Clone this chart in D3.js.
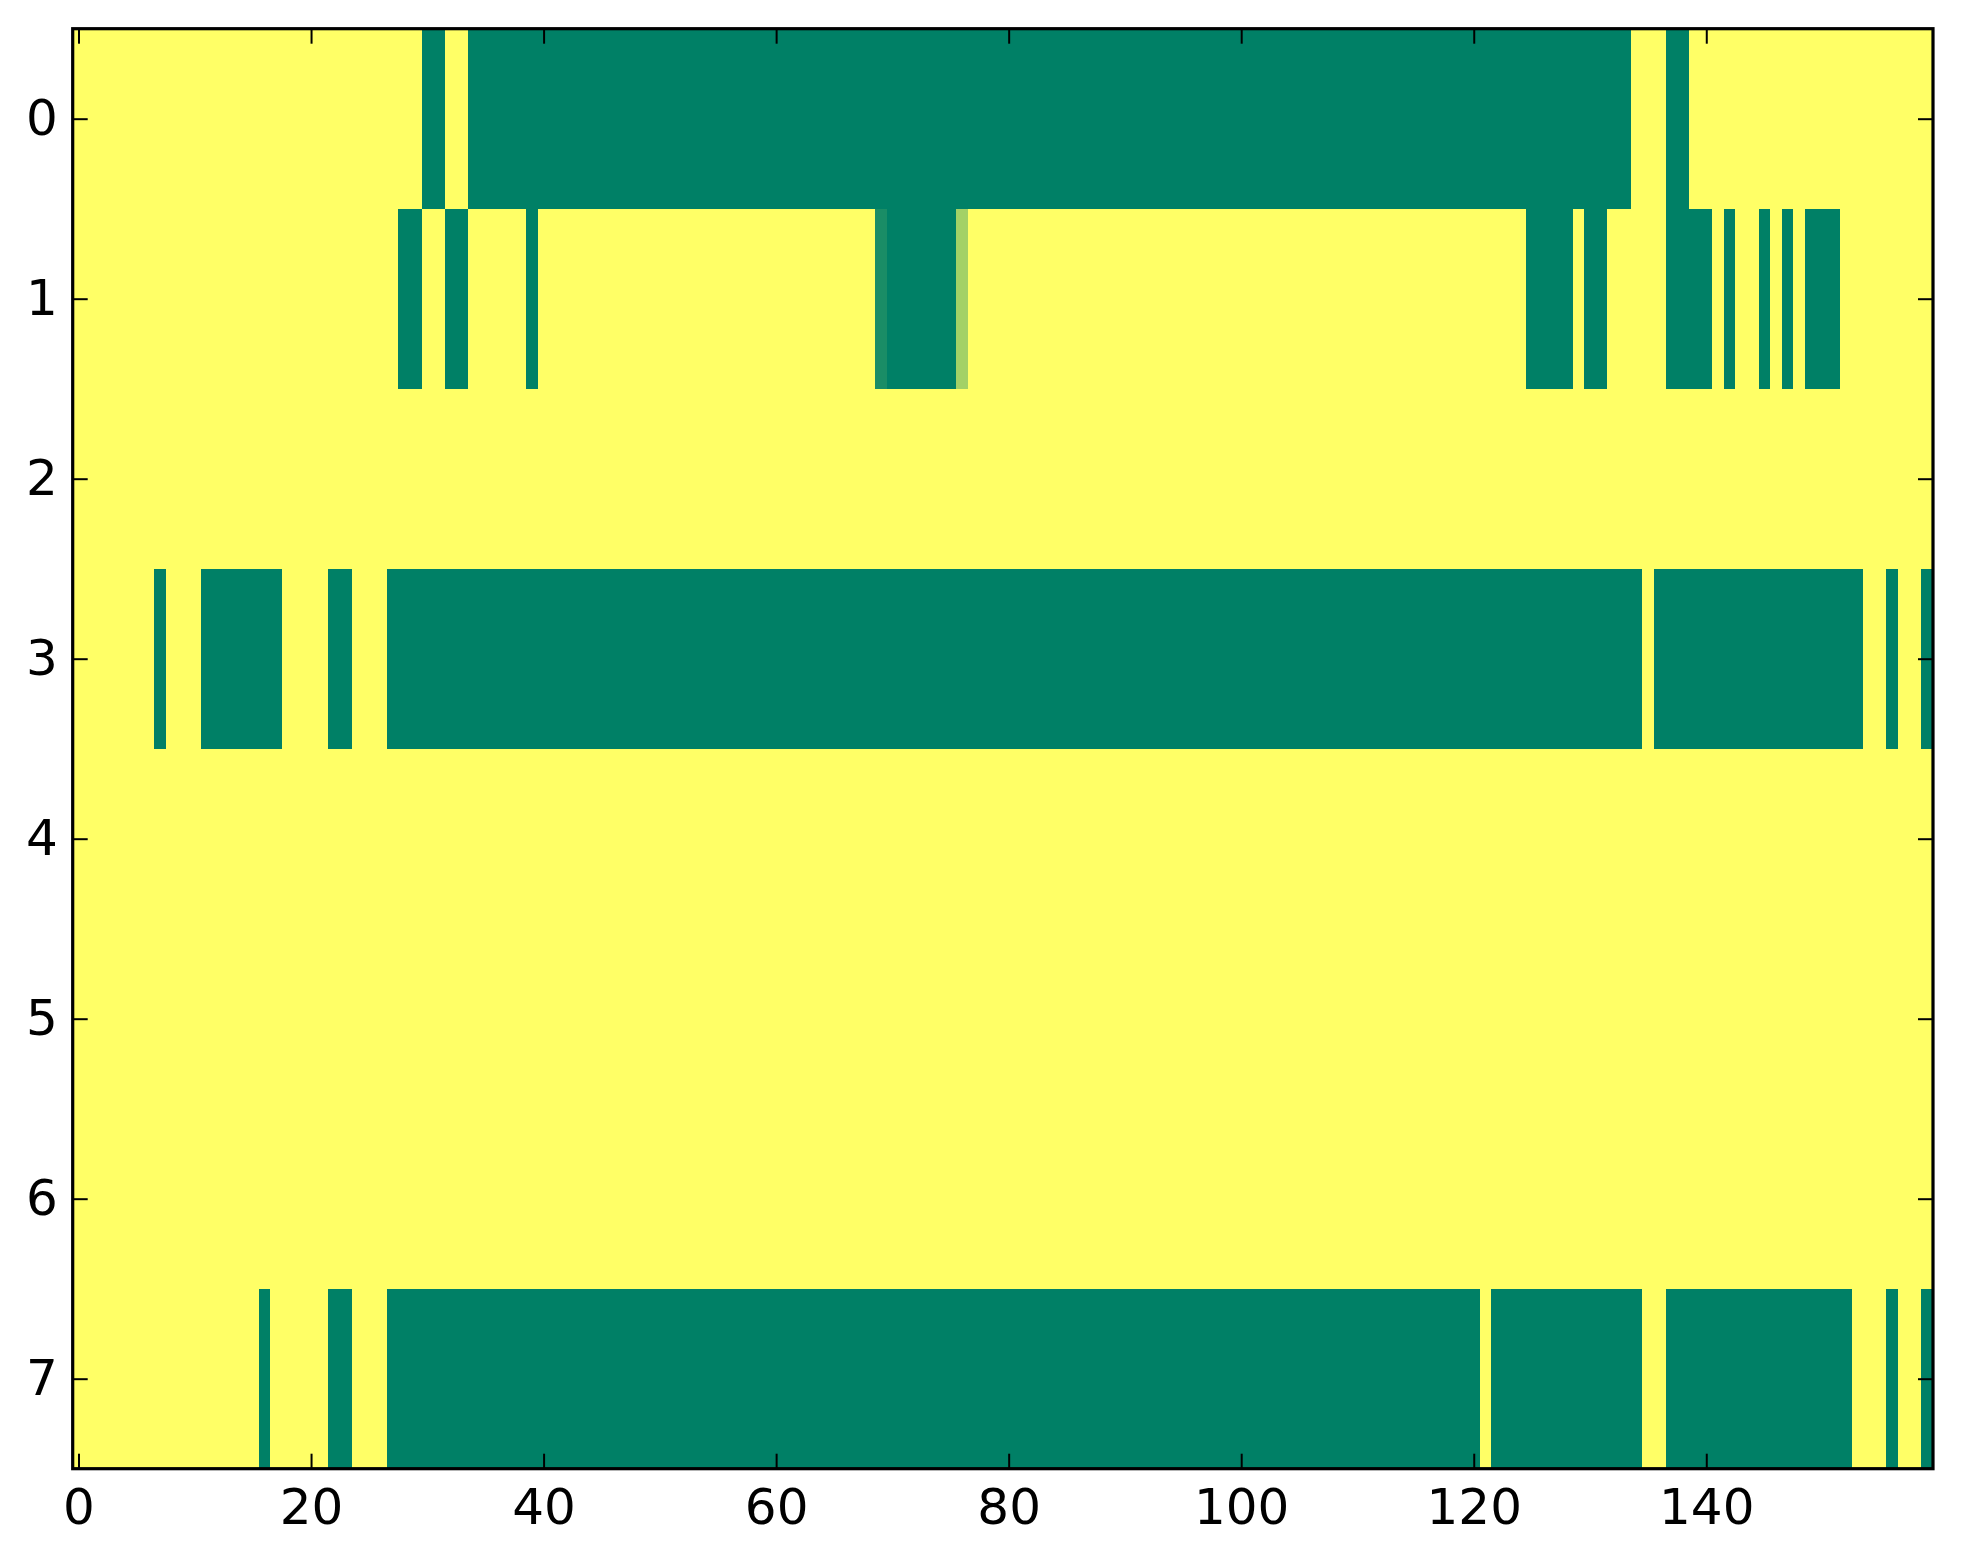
<!DOCTYPE html>
<html>
<head>
<meta charset="utf-8">
<script src="https://cdn.jsdelivr.net/npm/d3@7"></script>
<style>
  body { margin: 0; background: #ffffff; }
  .tick text { font-family: "DejaVu Sans", sans-serif; font-size: 50px; fill: #000; }
</style>
</head>
<body>
<div id="chart"></div>
<script>
// row labels (top to bottom) and x tick labels
var rowLabels = [0, 1, 2, 3, 4, 5, 6, 7];
var xTicks = [0, 20, 40, 60, 80, 100, 120, 140];

// cell values per row, 160 columns each (0 = green, 1 = yellow)
var row0 = [
  1,1,1,1,1,1,1,1,1,1,1,1,1,1,1,1,1,1,1,1,
  1,1,1,1,1,1,1,1,1,1,0,0,1,1,0,0,0,0,0,0,
  0,0,0,0,0,0,0,0,0,0,0,0,0,0,0,0,0,0,0,0,
  0,0,0,0,0,0,0,0,0,0,0,0,0,0,0,0,0,0,0,0,
  0,0,0,0,0,0,0,0,0,0,0,0,0,0,0,0,0,0,0,0,
  0,0,0,0,0,0,0,0,0,0,0,0,0,0,0,0,0,0,0,0,
  0,0,0,0,0,0,0,0,0,0,0,0,0,0,1,1,1,0,0,1,
  1,1,1,1,1,1,1,1,1,1,1,1,1,1,1,1,1,1,1,1
];
var row1 = [
  1,1,1,1,1,1,1,1,1,1,1,1,1,1,1,1,1,1,1,1,
  1,1,1,1,1,1,1,1,0,0,1,1,0,0,1,1,1,1,1,0,
  1,1,1,1,1,1,1,1,1,1,1,1,1,1,1,1,1,1,1,1,
  1,1,1,1,1,1,1,1,1,0.1,0,0,0,0,0,0,0.64,1,1,1,
  1,1,1,1,1,1,1,1,1,1,1,1,1,1,1,1,1,1,1,1,
  1,1,1,1,1,1,1,1,1,1,1,1,1,1,1,1,1,1,1,1,
  1,1,1,1,1,0,0,0,0,1,0,0,1,1,1,1,1,0,0,0,
  0,1,0,1,1,0,1,0,1,0,0,0,1,1,1,1,1,1,1,1
];
var row2 = [
  1,1,1,1,1,1,1,1,1,1,1,1,1,1,1,1,1,1,1,1,
  1,1,1,1,1,1,1,1,1,1,1,1,1,1,1,1,1,1,1,1,
  1,1,1,1,1,1,1,1,1,1,1,1,1,1,1,1,1,1,1,1,
  1,1,1,1,1,1,1,1,1,1,1,1,1,1,1,1,1,1,1,1,
  1,1,1,1,1,1,1,1,1,1,1,1,1,1,1,1,1,1,1,1,
  1,1,1,1,1,1,1,1,1,1,1,1,1,1,1,1,1,1,1,1,
  1,1,1,1,1,1,1,1,1,1,1,1,1,1,1,1,1,1,1,1,
  1,1,1,1,1,1,1,1,1,1,1,1,1,1,1,1,1,1,1,1
];
var row3 = [
  1,1,1,1,1,1,1,0,1,1,1,0,0,0,0,0,0,0,1,1,
  1,1,0,0,1,1,1,0,0,0,0,0,0,0,0,0,0,0,0,0,
  0,0,0,0,0,0,0,0,0,0,0,0,0,0,0,0,0,0,0,0,
  0,0,0,0,0,0,0,0,0,0,0,0,0,0,0,0,0,0,0,0,
  0,0,0,0,0,0,0,0,0,0,0,0,0,0,0,0,0,0,0,0,
  0,0,0,0,0,0,0,0,0,0,0,0,0,0,0,0,0,0,0,0,
  0,0,0,0,0,0,0,0,0,0,0,0,0,0,0,1,0,0,0,0,
  0,0,0,0,0,0,0,0,0,0,0,0,0,0,1,1,0,1,1,0
];
var row4 = [
  1,1,1,1,1,1,1,1,1,1,1,1,1,1,1,1,1,1,1,1,
  1,1,1,1,1,1,1,1,1,1,1,1,1,1,1,1,1,1,1,1,
  1,1,1,1,1,1,1,1,1,1,1,1,1,1,1,1,1,1,1,1,
  1,1,1,1,1,1,1,1,1,1,1,1,1,1,1,1,1,1,1,1,
  1,1,1,1,1,1,1,1,1,1,1,1,1,1,1,1,1,1,1,1,
  1,1,1,1,1,1,1,1,1,1,1,1,1,1,1,1,1,1,1,1,
  1,1,1,1,1,1,1,1,1,1,1,1,1,1,1,1,1,1,1,1,
  1,1,1,1,1,1,1,1,1,1,1,1,1,1,1,1,1,1,1,1
];
var row5 = [
  1,1,1,1,1,1,1,1,1,1,1,1,1,1,1,1,1,1,1,1,
  1,1,1,1,1,1,1,1,1,1,1,1,1,1,1,1,1,1,1,1,
  1,1,1,1,1,1,1,1,1,1,1,1,1,1,1,1,1,1,1,1,
  1,1,1,1,1,1,1,1,1,1,1,1,1,1,1,1,1,1,1,1,
  1,1,1,1,1,1,1,1,1,1,1,1,1,1,1,1,1,1,1,1,
  1,1,1,1,1,1,1,1,1,1,1,1,1,1,1,1,1,1,1,1,
  1,1,1,1,1,1,1,1,1,1,1,1,1,1,1,1,1,1,1,1,
  1,1,1,1,1,1,1,1,1,1,1,1,1,1,1,1,1,1,1,1
];
var row6 = [
  1,1,1,1,1,1,1,1,1,1,1,1,1,1,1,1,1,1,1,1,
  1,1,1,1,1,1,1,1,1,1,1,1,1,1,1,1,1,1,1,1,
  1,1,1,1,1,1,1,1,1,1,1,1,1,1,1,1,1,1,1,1,
  1,1,1,1,1,1,1,1,1,1,1,1,1,1,1,1,1,1,1,1,
  1,1,1,1,1,1,1,1,1,1,1,1,1,1,1,1,1,1,1,1,
  1,1,1,1,1,1,1,1,1,1,1,1,1,1,1,1,1,1,1,1,
  1,1,1,1,1,1,1,1,1,1,1,1,1,1,1,1,1,1,1,1,
  1,1,1,1,1,1,1,1,1,1,1,1,1,1,1,1,1,1,1,1
];
var row7 = [
  1,1,1,1,1,1,1,1,1,1,1,1,1,1,1,1,0,1,1,1,
  1,1,0,0,1,1,1,0,0,0,0,0,0,0,0,0,0,0,0,0,
  0,0,0,0,0,0,0,0,0,0,0,0,0,0,0,0,0,0,0,0,
  0,0,0,0,0,0,0,0,0,0,0,0,0,0,0,0,0,0,0,0,
  0,0,0,0,0,0,0,0,0,0,0,0,0,0,0,0,0,0,0,0,
  0,0,0,0,0,0,0,0,0,0,0,0,0,0,0,0,0,0,0,0,
  0,1,0,0,0,0,0,0,0,0,0,0,0,0,0,1,1,0,0,0,
  0,0,0,0,0,0,0,0,0,0,0,0,0,1,1,1,0,1,1,0
];
var rows = [row0, row1, row2, row3, row4, row5, row6, row7];

// Set up the dimensions of the graph
var svgWidth = 1963, svgHeight = 1564;
var margin = { top: 28.7, right: 30, bottom: 95.3, left: 72.7 },
    width = svgWidth - margin.left - margin.right,
    height = svgHeight - margin.top - margin.bottom;

var svg = d3.select("#chart").append("svg")
    .attr("width", svgWidth)
    .attr("height", svgHeight)
    .style("background", "#ffffff")
    .append("g")
    .attr("transform", "translate(" + margin.left + "," + margin.top + ")");

// Scales: cell centres sit on integer positions, like imshow
var nCols = row0.length;
var x = d3.scaleLinear().domain([-0.5, nCols - 0.5]).range([0, width]);
var y = d3.scaleLinear().domain([-0.5, rowLabels.length - 0.5]).range([0, height]);

// summer colormap: green at 0, yellow at 1
var color = d3.scaleLinear().domain([0, 1]).range(["#008066", "#ffff66"]);

// flatten into cells
var cells = [];
rows.forEach((r, i) => {
    r.forEach((v, j) => cells.push({ row: rowLabels[i], col: j, value: v }));
});

svg.selectAll(".cell")
    .data(cells)
    .enter().append("rect")
    .attr("class", "cell")
    .attr("x", d => x(d.col - 0.5))
    .attr("y", d => y(d.row - 0.5))
    .attr("width", d => x(d.col + 0.5) - x(d.col - 0.5))
    .attr("height", d => y(d.row + 0.5) - y(d.row - 0.5))
    .attr("fill", d => color(d.value))
    .attr("shape-rendering", "crispEdges");

// Axes, ticks point inwards on all four sides
var tickLen = 15;

var xAxis = svg.append("g")
    .attr("transform", "translate(0," + height + ")")
    .call(d3.axisBottom(x).tickValues(xTicks).tickSizeInner(-tickLen).tickSizeOuter(0).tickPadding(20));

var xAxisTop = svg.append("g")
    .call(d3.axisTop(x).tickValues(xTicks).tickSizeInner(-tickLen).tickSizeOuter(0).tickFormat(""));

var yAxis = svg.append("g")
    .call(d3.axisLeft(y).tickValues(rowLabels).tickSizeInner(-tickLen).tickSizeOuter(0).tickPadding(15));

var yAxisRight = svg.append("g")
    .attr("transform", "translate(" + width + ",0)")
    .call(d3.axisRight(y).tickValues(rowLabels).tickSizeInner(-tickLen).tickSizeOuter(0).tickFormat(""));

[xAxis, xAxisTop, yAxis, yAxisRight].forEach(a => {
    a.select(".domain").remove();
    a.selectAll(".tick line").attr("stroke", "#000").attr("stroke-width", 2);
});

// frame
svg.append("rect")
    .attr("x", 0)
    .attr("y", 0)
    .attr("width", width)
    .attr("height", height)
    .attr("fill", "none")
    .attr("stroke", "#000")
    .attr("stroke-width", 3.2);
</script>
</body>
</html>
